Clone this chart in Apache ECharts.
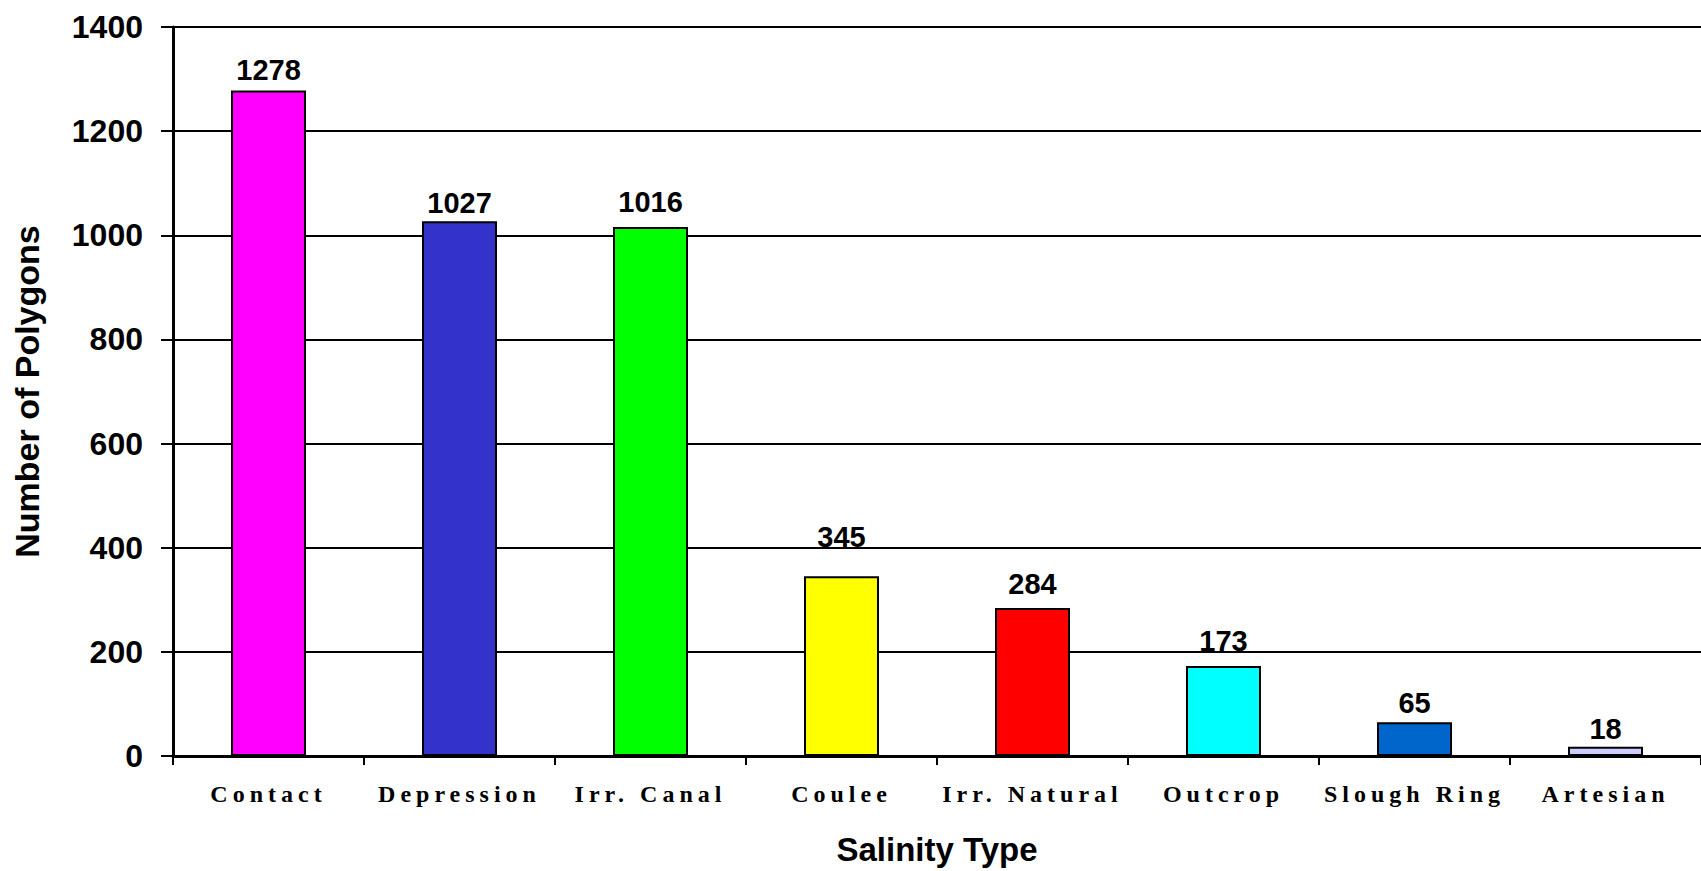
<!DOCTYPE html>
<html>
<head>
<meta charset="utf-8">
<script src="https://cdn.jsdelivr.net/npm/echarts@6/dist/echarts.min.js"></script>
<style>
  html, body { margin: 0; padding: 0; background: #ffffff; }
  #chart { width: 1701px; height: 871px; }
  #chart svg text[style*="Serif"] { letter-spacing: 5px; }
</style>
</head>
<body>
<div id="chart"></div>
<script>
const categories = ['Contact', 'Depression', 'Irr. Canal', 'Coulee', 'Irr. Natural', 'Outcrop', 'Slough Ring', 'Artesian'];
const polygonCounts = [1278, 1027, 1016, 345, 284, 173, 65, 18];
const barColors = ['#FF00FF', '#3333CC', '#00FF00', '#FFFF00', '#FF0000', '#00FFFF', '#0066CC', '#CCCCFF'];
const yTicks = { min: 0, max: 1400, interval: 200 };
// label gap above each bar (style only), as placed in the original
const labelGaps = [6, 4, 10.5, 24.5, 9.5, 10, 4.5, 3];

const chart = echarts.init(document.getElementById('chart'), null, { renderer: 'svg' });

const option = {
  animation: false,
  backgroundColor: '#ffffff',
  grid: { left: 173, top: 27, bottom: 114, width: 1532, containLabel: false },
  xAxis: {
    type: 'category',
    data: categories,
    name: 'Salinity Type',
    nameLocation: 'middle',
    nameGap: 77,
    nameTextStyle: { fontFamily: 'Liberation Sans', fontWeight: 'bold', fontSize: 33, color: '#000' },
    axisLine: { show: true, lineStyle: { color: '#000', width: 3 } },
    axisTick: { show: true, length: 9, lineStyle: { color: '#000', width: 2 } },
    axisLabel: {
      interval: 0,
      margin: 26,
      fontFamily: 'Liberation Serif',
      fontWeight: 'bold',
      fontSize: 24,
      color: '#000'
    },
    splitLine: { show: false }
  },
  yAxis: {
    type: 'value',
    min: yTicks.min,
    max: yTicks.max,
    interval: yTicks.interval,
    name: 'Number of Polygons',
    nameLocation: 'middle',
    nameGap: 129,
    nameRotate: 90,
    nameTextStyle: { fontFamily: 'Liberation Sans', fontWeight: 'bold', fontSize: 34, color: '#000' },
    axisLine: { show: true, lineStyle: { color: '#000', width: 3 } },
    axisTick: { show: true, length: 12, lineStyle: { color: '#000', width: 2 } },
    axisLabel: {
      margin: 30,
      formatter: v => String(v),
      fontFamily: 'Liberation Sans',
      fontWeight: 'bold',
      fontSize: 32,
      color: '#000'
    },
    splitLine: { show: true, lineStyle: { color: '#000', width: 2 } }
  },
  series: [{
    type: 'bar',
    barWidth: 75,
    data: polygonCounts.map((v, i) => ({
      value: v,
      itemStyle: { color: barColors[i], borderColor: '#000', borderWidth: 2 },
      label: { distance: labelGaps[i] }
    })),
    label: {
      show: true,
      position: 'top',
      fontFamily: 'Liberation Sans',
      fontWeight: 'bold',
      fontSize: 29,
      color: '#000'
    }
  }]
};

chart.setOption(option);
</script>
</body>
</html>
